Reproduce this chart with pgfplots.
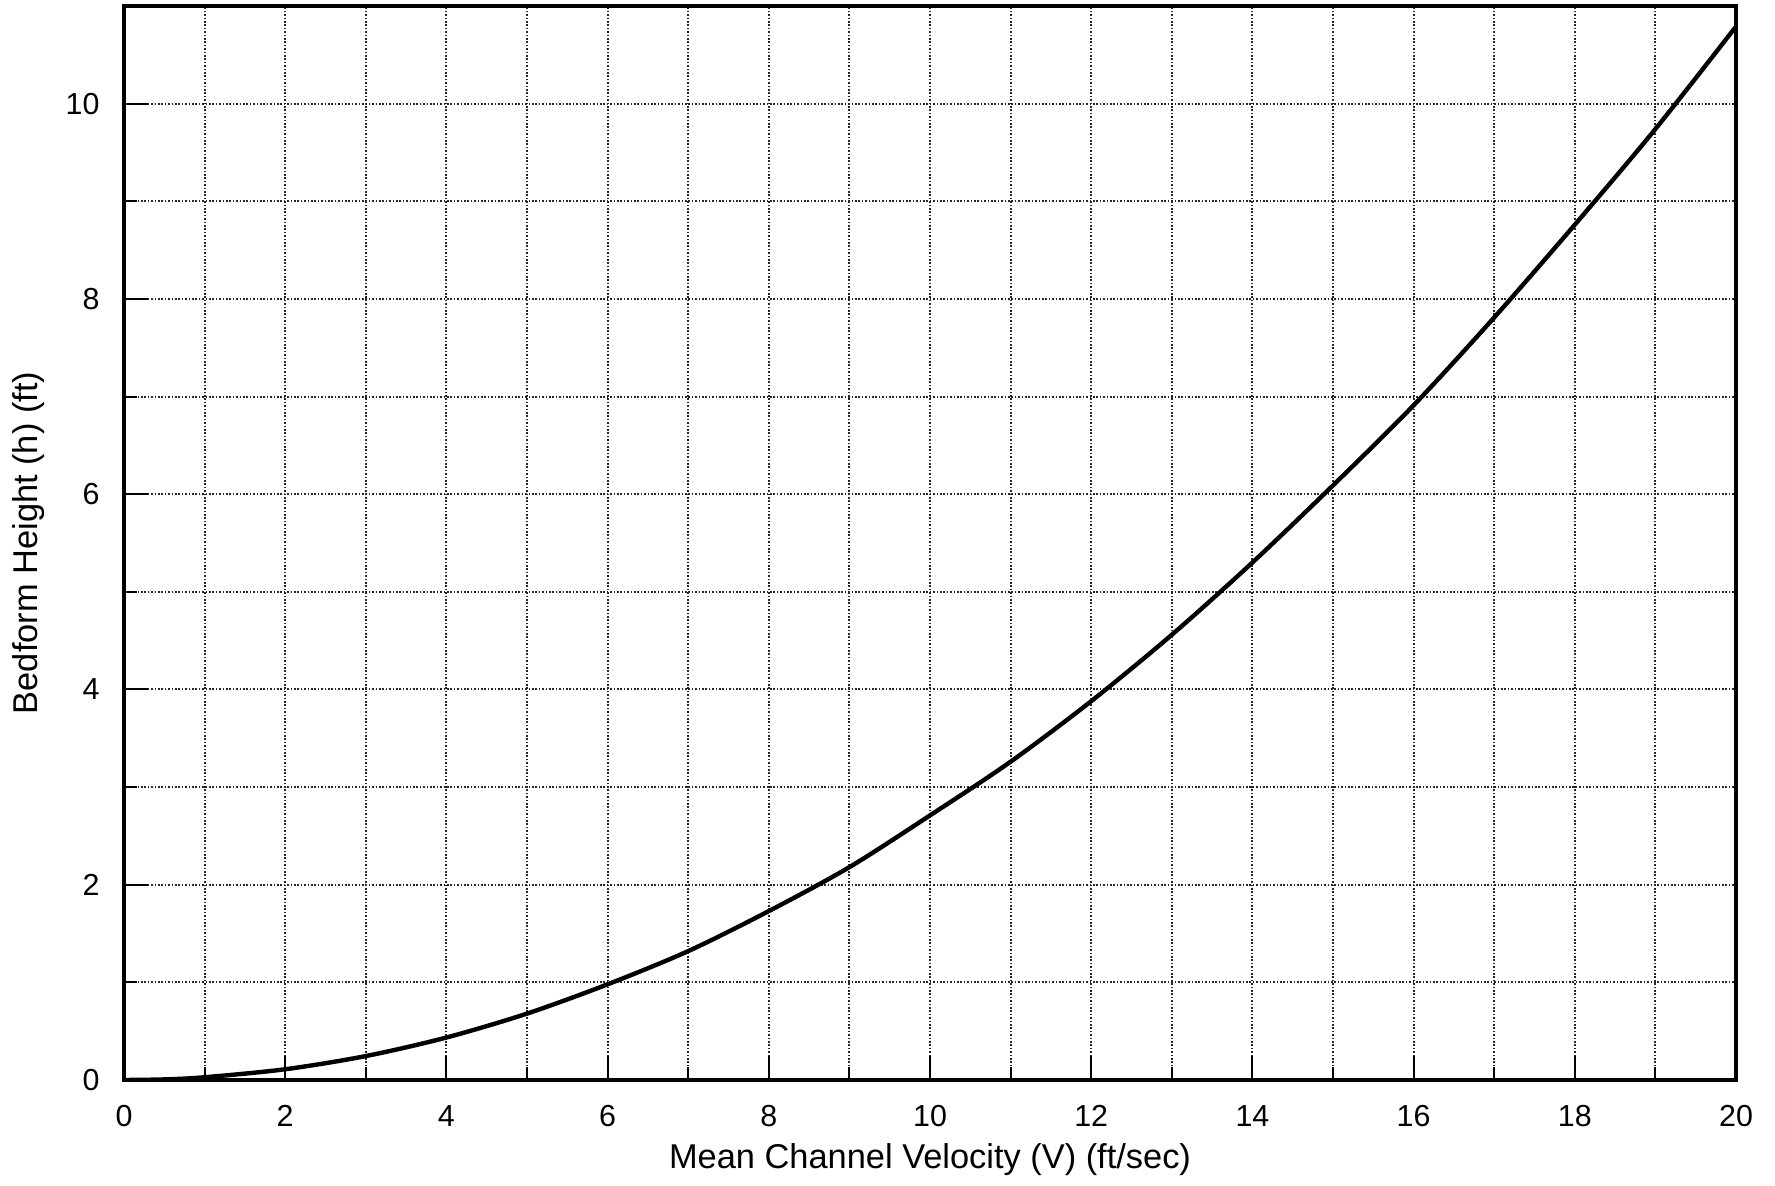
\documentclass[border=0pt]{standalone}
\usepackage{fontspec}
\setmainfont{Liberation Sans}
\usepackage{pgfplots}
\pgfplotsset{compat=1.18}

\begin{document}
\begin{tikzpicture}
\begin{axis}[
    scale only axis,
    width=403pt, height=268.5pt,
    xmin=0, xmax=20,
    ymin=0, ymax=11,
    xtick={0,2,...,20},
    ytick={0,2,...,10},
    minor xtick={1,3,...,19},
    minor ytick={1,3,...,11},
    grid=both,
    major grid style={black!85, line width=0.5pt, dash pattern=on 0.4pt off 0.45pt},
    minor grid style={black!85, line width=0.5pt, dash pattern=on 0.4pt off 0.45pt},
    tick align=inside,
    xtick pos=bottom, ytick pos=left,
    major tick length=6pt, minor tick length=3.2pt,
    tick style={black, line width=0.5pt},
    axis line style={line width=0.8pt},
    /pgf/number format/assume math mode=true,
    ticklabel style={font=\fontsize{7.6}{9}\selectfont},
    xticklabel style={yshift=-2.8pt},
    yticklabel style={xshift=-2.6pt},
    xlabel={Mean Channel Velocity (V) (ft/sec)},
    ylabel={Bedform Height (h) (ft)},
    label style={font=\fontsize{8.6}{10}\selectfont, inner sep=0pt},
    xlabel style={at={(axis description cs:0.5,-0.0745)}, anchor=center},
    ylabel style={at={(axis description cs:-0.059,0.5)}, anchor=center},
]
\addplot[black, line width=1.1pt, smooth] coordinates {
    (0,0) (0.5,0.006) (1,0.028) (2,0.11) (3,0.245) (4,0.435) (5,0.68)
    (6,0.98) (7,1.32) (8,1.73) (9,2.18) (10,2.71) (11,3.26) (12,3.88)
    (13,4.56) (14,5.30) (15,6.09) (16,6.91) (17,7.81) (18,8.76)
    (19,9.74) (20,10.79)
};
\end{axis}
\path ([xshift=-31pt,yshift=-26.5pt]current axis.south west) rectangle ([xshift=9.75pt,yshift=1.5pt]current axis.north east);
\end{tikzpicture}
\end{document}
